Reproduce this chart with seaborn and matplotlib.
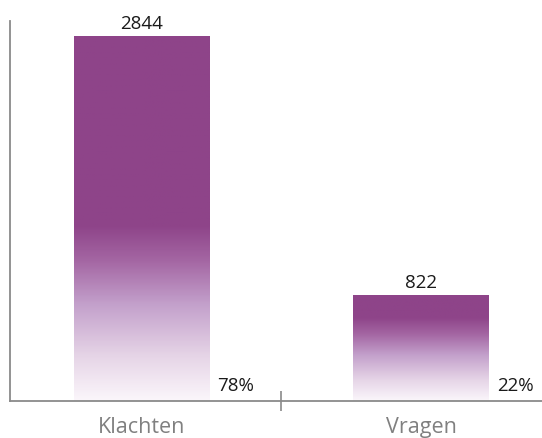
import numpy as np
import pandas as pd
import matplotlib
matplotlib.use("Agg")
import matplotlib.pyplot as plt
from matplotlib.colors import LinearSegmentedColormap
import seaborn as sns

categories = ["Klachten", "Vragen"]
counts = [2844, 822]
percent_labels = ["78%", "22%"]

sns.set_theme(style="white")
plt.rcParams['font.family'] = ['Open Sans', 'DejaVu Sans']

df = pd.DataFrame({"cat": categories, "n": counts})

fig = plt.figure(figsize=(5.42, 4.39), dpi=100)
ax = fig.add_axes([10/542, 37/439, 1 - 10/542, (402-22)/439])

sns.barplot(data=df, x="cat", y="n", ax=ax, width=0.483, color="#8E4489",
            saturation=1, errorbar=None)

cmap = LinearSegmentedColormap.from_list(
    "grad", [(0.0, "#FBF6FB"), (0.25, "#E6D5E7"), (0.55, "#C3A0CB"),
             (0.8, "#A466A3"), (1.0, "#8E4489")])
solid_frac = [0.52, 0.21]

ax.set_xlim(-0.47, 1.433)
ax.set_ylim(0, 2960)

for p, s in zip(ax.patches, solid_frac):
    x0 = p.get_x(); w = p.get_width(); h = p.get_height()
    y = np.linspace(0, 1, 300)
    t = np.clip(y / (1 - s), 0, 1)
    im = ax.imshow(t[:, None], extent=[x0, x0 + w, 0, h], origin="lower",
                   aspect="auto", cmap=cmap, vmin=0, vmax=1, zorder=p.get_zorder())
    im.set_clip_path(p)
    p.set_facecolor("none")
    p.set_edgecolor("none")

ax.set_xlim(-0.47, 1.433)
ax.set_ylim(0, 2960)

for p, v, pl in zip(ax.patches, counts, percent_labels):
    cx = p.get_x() + p.get_width() / 2
    ax.annotate(f"{v}", (cx, v), xytext=(0, 3), textcoords="offset points",
                ha="center", va="bottom", fontsize=13.5, color="#1a1a1a")
    ax.annotate(pl, (p.get_x() + p.get_width(), 0), xytext=(6, 5),
                textcoords="offset points", ha="left", va="bottom",
                fontsize=13.5, color="#1a1a1a")

for side in ["top", "right"]:
    ax.spines[side].set_visible(False)
for side in ["left", "bottom"]:
    ax.spines[side].set_color("#8a8a8a")
    ax.spines[side].set_linewidth(1.3)

ax.set_xlabel("")
ax.set_ylabel("")
ax.set_yticks([])
ax.tick_params(axis="x", which="major", bottom=False, length=0, pad=11,
               labelsize=15.5, labelcolor="#808080")
ax.set_xticks([0.5], minor=True)
ax.tick_params(axis="x", which="minor", bottom=True, length=15,
               direction="inout", color="#8a8a8a", width=1.2)

fig.savefig("out.png", dpi=100)
